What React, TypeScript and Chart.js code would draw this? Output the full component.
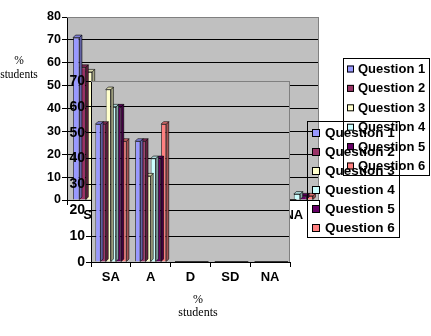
import React, { useEffect, useRef } from "react";
import { Chart, registerables } from "chart.js";

Chart.register(...registerables);

// ---------- data ----------
const categories = ["SA", "A", "D", "SD", "NA"];
const seriesNames = ["Question 1", "Question 2", "Question 3", "Question 4", "Question 5", "Question 6"];
const seriesColors = ["#9999FF", "#993366", "#FFFFCC", "#CCFFFF", "#660066", "#FF8080"];

// back (partly hidden) chart, y axis 0-80
const backQ1 = [71, 29, 0, 0, 0];
const backQ2 = [58, 42, 0, 0, 0];
const backQ3 = [56, 44, 0, 0, 0];
const backQ4 = [50, 47.4, 0, 0, 2.6];
const backQ5 = [48, 50.2, 0, 0, 1.8];
const backQ6 = [50, 48.2, 0, 0, 1.8];
const backMax = 80;

// front chart, y axis 0-70
const frontQ1 = [53.3, 46.7, 0, 0, 0];
const frontQ2 = [53.3, 46.7, 0, 0, 0];
const frontQ3 = [66.7, 33.3, 0, 0, 0];
const frontQ4 = [60, 40, 0, 0, 0];
const frontQ5 = [60, 40, 0, 0, 0];
const frontQ6 = [46.7, 53.3, 0, 0, 0];
const frontMax = 70;

const axisTitleLines = ["%", "students"];

const SANS = 'Arial, "Liberation Sans", sans-serif';
const SERIF = '"Times New Roman", "Liberation Serif", serif';

function shade(hex: string, f: number): string {
  const h = hex.replace("#", "");
  const r = parseInt(h.slice(0, 2), 16);
  const g = parseInt(h.slice(2, 4), 16);
  const b = parseInt(h.slice(4, 6), 16);
  const c = (v: number) => Math.max(0, Math.min(255, Math.round(f >= 1 ? v + (255 - v) * (f - 1) : v * f)));
  return `rgb(${c(r)},${c(g)},${c(b)})`;
}

// plot background + border
const plotBg = {
  id: "plotBg",
  beforeDraw(chart: any) {
    const { ctx, chartArea: a } = chart;
    ctx.save();
    ctx.fillStyle = "#C0C0C0";
    ctx.fillRect(a.left, a.top, a.right - a.left, a.bottom - a.top);
    ctx.restore();
  },
  afterDraw(chart: any) {
    const { ctx, chartArea: a } = chart;
    ctx.save();
    ctx.strokeStyle = "#808080";
    ctx.lineWidth = 1;
    ctx.beginPath();
    ctx.moveTo(a.left, a.top + 0.5);
    ctx.lineTo(a.right - 0.5, a.top + 0.5);
    ctx.lineTo(a.right - 0.5, a.bottom);
    ctx.stroke();
    ctx.restore();
  },
};

// pseudo-3D faces for bars
const bar3d = {
  id: "bar3d",
  afterDatasetDraw(chart: any, args: any, opts: any) {
    const d = opts.depth || 2.5;
    const meta = chart.getDatasetMeta(args.index);
    const ds = chart.data.datasets[args.index];
    const color = ds.backgroundColor as string;
    const ctx = chart.ctx;
    ctx.save();
    ctx.lineWidth = 0.6;
    ctx.strokeStyle = "#000";
    meta.data.forEach((el: any, j: number) => {
      const { x, y, base, width } = el.getProps(["x", "y", "base", "width"], true);
      const l = x - width / 2;
      const r = x + width / 2;
      if (!ds.data[j]) {
        ctx.beginPath();
        ctx.moveTo(l, base - 0.5);
        ctx.lineTo(r + d, base - 0.5);
        ctx.strokeStyle = "#333";
        ctx.lineWidth = 1;
        ctx.stroke();
        ctx.lineWidth = 0.6;
        ctx.strokeStyle = "#000";
        return;
      }
      // side face
      ctx.beginPath();
      ctx.moveTo(r, y);
      ctx.lineTo(r + d, y - d);
      ctx.lineTo(r + d, base - d);
      ctx.lineTo(r, base);
      ctx.closePath();
      ctx.fillStyle = shade(color, 0.65);
      ctx.fill();
      ctx.stroke();
      // top face
      ctx.beginPath();
      ctx.moveTo(l, y);
      ctx.lineTo(l + d, y - d);
      ctx.lineTo(r + d, y - d);
      ctx.lineTo(r, y);
      ctx.closePath();
      ctx.fillStyle = shade(color, 0.85);
      ctx.fill();
      ctx.stroke();
    });
    ctx.restore();
  },
};

// custom legend (transparent box)
const boxLegend = {
  id: "boxLegend",
  afterDraw(chart: any, _args: any, o: any) {
    const ctx = chart.ctx;
    ctx.save();
    ctx.strokeStyle = "#000";
    ctx.lineWidth = 1;
    ctx.strokeRect(o.x + 0.5, o.y + 0.5, o.w, o.h);
    ctx.font = `bold ${o.fontSize}px ${SANS}`;
    ctx.textBaseline = "middle";
    ctx.textAlign = "left";
    chart.data.datasets.forEach((ds: any, i: number) => {
      const cy = o.firstY + i * o.step;
      ctx.fillStyle = ds.backgroundColor;
      ctx.fillRect(o.markerX, cy - o.marker / 2, o.marker, o.marker);
      ctx.strokeStyle = "#000";
      ctx.strokeRect(o.markerX + 0.5, cy - o.marker / 2 + 0.5, o.marker - 1, o.marker - 1);
      ctx.fillStyle = "#000";
      ctx.fillText(ds.label, o.textX, cy + 0.5);
    });
    ctx.restore();
  },
};

// horizontal serif axis title
const flatTitle = {
  id: "flatTitle",
  afterDraw(chart: any, _args: any, o: any) {
    const ctx = chart.ctx;
    ctx.save();
    ctx.font = `${o.fontSize}px ${SERIF}`;
    ctx.fillStyle = "#000";
    ctx.textAlign = "center";
    ctx.textBaseline = "middle";
    (o.lines as string[]).forEach((t, i) => ctx.fillText(t, o.x, o.y + i * o.lineGap));
    ctx.restore();
  },
};

function makeDatasets(series: number[][], catPct: number) {
  return series.map((vals, i) => ({
    label: seriesNames[i],
    data: vals,
    backgroundColor: seriesColors[i],
    borderColor: "rgba(0,0,0,0.85)",
    borderWidth: 0.8,
    categoryPercentage: catPct,
    barPercentage: 1,
  }));
}

function makeConfig(p: {
  series: number[][];
  max: number;
  catPct: number;
  padding: any;
  yWidth: number;
  yFont: number;
  xFont: number;
  depth: number;
  legend: any;
  title: any;
}): any {
  return {
    type: "bar",
    data: { labels: categories, datasets: makeDatasets(p.series, p.catPct) },
    options: {
      responsive: false,
      animation: false,
      devicePixelRatio: 1,
      layout: { padding: p.padding },
      plugins: {
        legend: { display: false },
        tooltip: { enabled: false },
        title: { display: false },
        bar3d: { depth: p.depth },
        boxLegend: p.legend,
        flatTitle: p.title,
      },
      scales: {
        x: {
          grid: { drawOnChartArea: false, drawTicks: true, tickLength: 5, color: "#000", offset: true },
          border: { display: true, color: "#000", width: 1 },
          ticks: {
            autoSkip: false,
            maxRotation: 0,
            padding: 3,
            color: "#000",
            font: { family: SANS, weight: "bold", size: p.xFont },
          },
          afterFit: (s: any) => {
            s.height = 20;
          },
        },
        y: {
          min: 0,
          max: p.max,
          grid: {
            color: (c: any) => (c.tick && c.tick.value === p.max ? "#808080" : "#000"),
            tickColor: "#000",
            tickLength: 5,
            lineWidth: 1,
          },
          border: { display: true, color: "#000", width: 1 },
          ticks: {
            stepSize: 10,
            padding: 1,
            color: "#000",
            font: { family: SANS, weight: "bold", size: p.yFont },
          },
          afterFit: (s: any) => {
            s.width = p.yWidth;
          },
        },
      },
    },
    plugins: [plotBg, bar3d, boxLegend, flatTitle],
  };
}

export default function App() {
  const backRef = useRef<HTMLCanvasElement | null>(null);
  const frontRef = useRef<HTMLCanvasElement | null>(null);

  useEffect(() => {
    if (!backRef.current || !frontRef.current) return;
    const back = new Chart(
      backRef.current,
      makeConfig({
        series: [backQ1, backQ2, backQ3, backQ4, backQ5, backQ6],
        max: backMax,
        catPct: 0.76,
        padding: { left: 0, top: 17, right: 112, bottom: 116 },
        yWidth: 67,
        yFont: 12.5,
        xFont: 13,
        depth: 2.5,
        legend: { x: 343, y: 58, w: 86, h: 117, markerX: 347, marker: 7, textX: 358, firstY: 69, step: 19.4, fontSize: 13 },
        title: { x: 19, y: 61, lineGap: 14, fontSize: 11.5, lines: axisTitleLines },
      })
    );
    const front = new Chart(
      frontRef.current,
      makeConfig({
        series: [frontQ1, frontQ2, frontQ3, frontQ4, frontQ5, frontQ6],
        max: frontMax,
        catPct: 0.78,
        padding: { left: 0, top: 81, right: 141, bottom: 54 },
        yWidth: 91,
        yFont: 14,
        xFont: 13,
        depth: 2.5,
        legend: { x: 307, y: 121, w: 92, h: 116, markerX: 312, marker: 8, textX: 325, firstY: 133, step: 19, fontSize: 13.5 },
        title: { x: 198, y: 300, lineGap: 13, fontSize: 12, lines: axisTitleLines },
      })
    );
    return () => {
      back.destroy();
      front.destroy();
    };
  }, []);

  const cs: React.CSSProperties = { position: "absolute", left: 0, top: 0, width: 431, height: 336 };
  return (
    <div style={{ position: "fixed", left: 0, top: 0, width: 431, height: 336, background: "#fff" }}>
      <canvas ref={backRef} width={431} height={336} style={cs} />
      <canvas ref={frontRef} width={431} height={336} style={cs} />
    </div>
  );
}
